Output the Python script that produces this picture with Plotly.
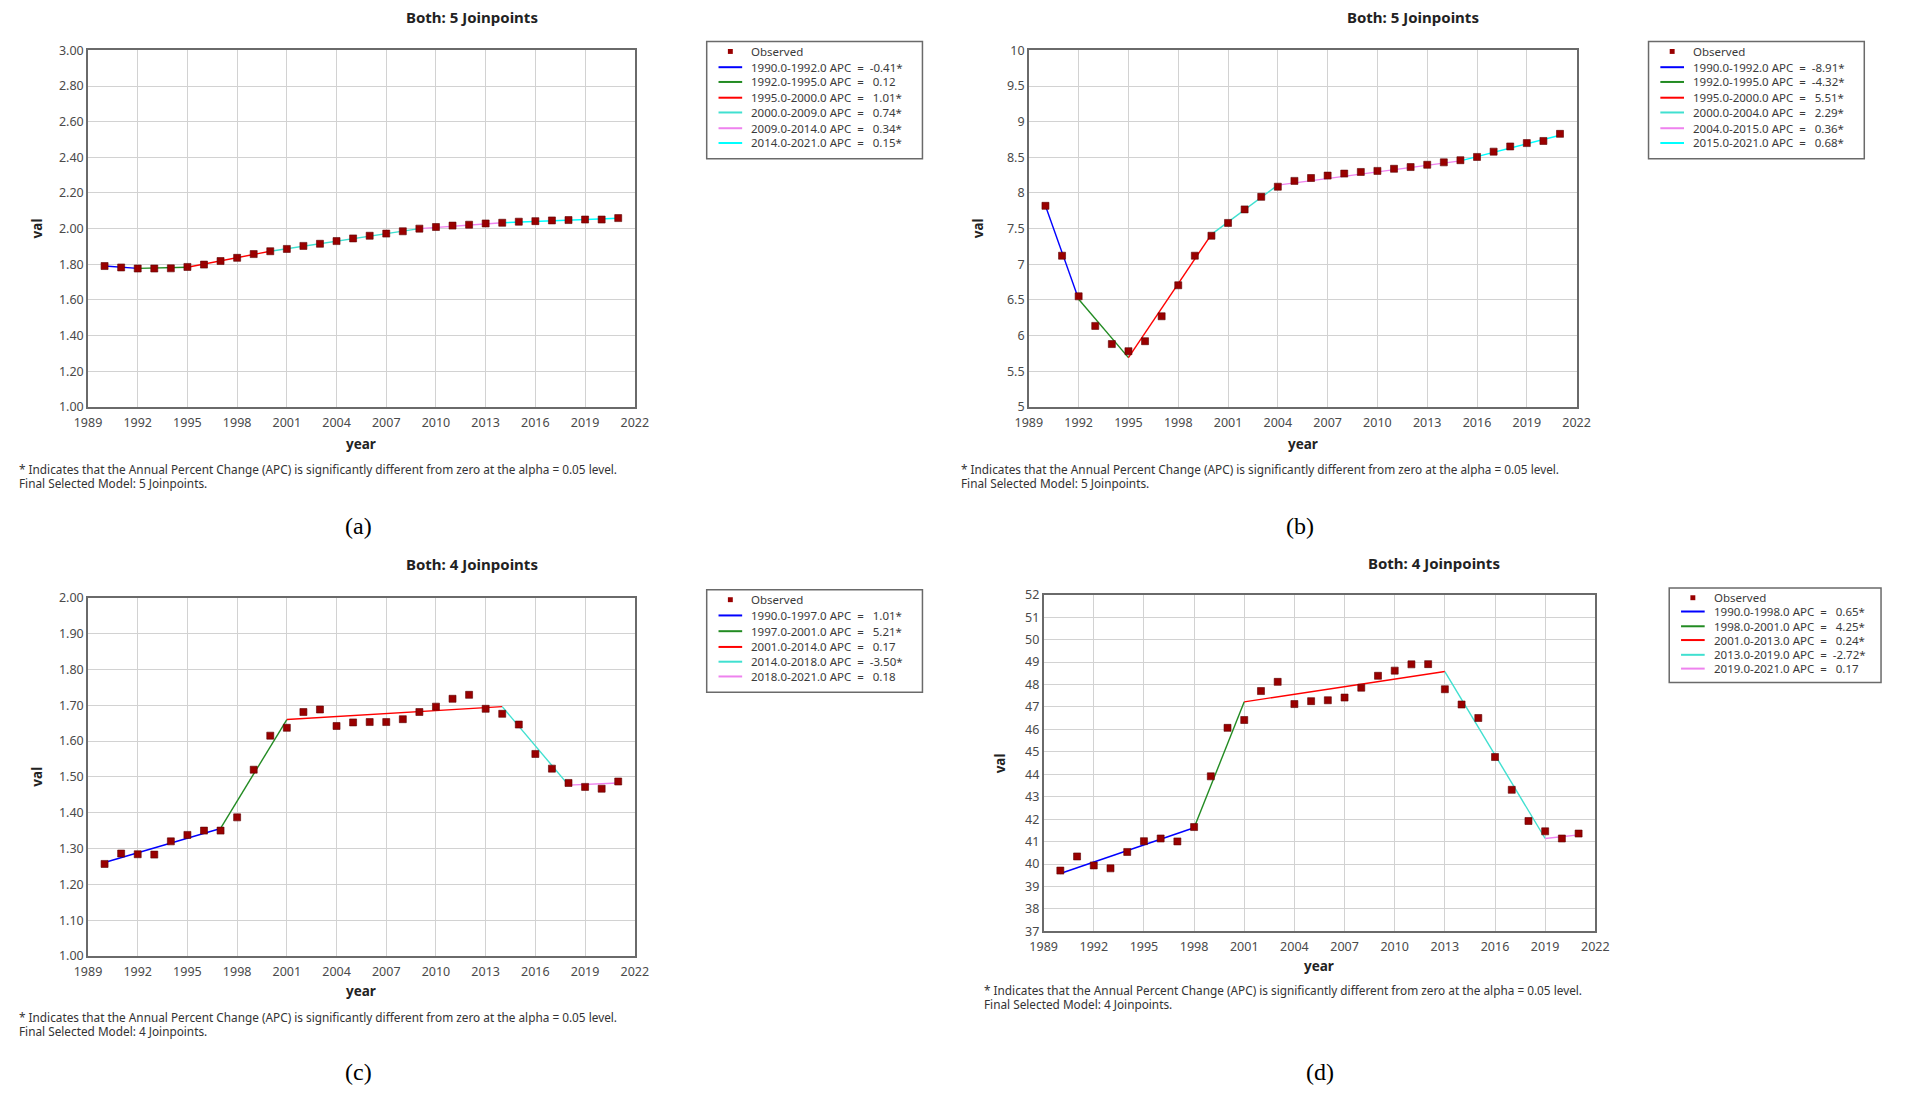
import plotly.graph_objects as go

W, H = 1905, 1098          # size of the reference picture
PAGE_MARGIN = 8            # default <body> margin around the plot div
FW, FH = W - 2 * PAGE_MARGIN, H - 2 * PAGE_MARGIN
years = list(range(1990, 2022))

# (a)
obs_a = [1.790, 1.782, 1.776, 1.776, 1.777, 1.785, 1.798, 1.818, 1.836, 1.857,
         1.873, 1.886, 1.903, 1.915, 1.930, 1.945, 1.960, 1.972, 1.985, 2.000,
         2.009, 2.017, 2.022, 2.029, 2.033, 2.039, 2.042, 2.046, 2.048, 2.051,
         2.051, 2.059]
jp_a = [1990, 1992, 1995, 2000, 2009, 2014, 2021]
fit_a = [1.790, 1.777, 1.783, 1.873, 2.000, 2.033, 2.058]
apc_a = ["-0.41*", "0.12", "1.01*", "0.74*", "0.34*", "0.15*"]

# (b)
obs_b = [7.82, 7.12, 6.55, 6.135, 5.88, 5.78, 5.92, 6.27, 6.705, 7.12,
         7.40, 7.58, 7.77, 7.946, 8.088, 8.17, 8.21, 8.244, 8.272, 8.295,
         8.31, 8.34, 8.364, 8.396, 8.43, 8.46, 8.506, 8.58, 8.653, 8.70,
         8.73, 8.83]
jp_b = [1990, 1992, 1995, 2000, 2004, 2015, 2021]
fit_b = [7.82, 6.51, 5.69, 7.42, 8.11, 8.45, 8.81]
apc_b = ["-8.91*", "-4.32*", "5.51*", "2.29*", "0.36*", "0.68*"]

# (c)
obs_c = [1.257, 1.286, 1.284, 1.283, 1.320, 1.338, 1.350, 1.350, 1.387, 1.520,
         1.615, 1.637, 1.681, 1.688, 1.642, 1.652, 1.653, 1.653, 1.661, 1.681,
         1.696, 1.718, 1.729, 1.690, 1.676, 1.646, 1.564, 1.523, 1.483, 1.472,
         1.467, 1.487]
jp_c = [1990, 1997, 2001, 2014, 2018, 2021]
fit_c = [1.261, 1.356, 1.660, 1.696, 1.477, 1.483]
apc_c = ["1.01*", "5.21*", "0.17", "-3.50*", "0.18"]

# (d)
obs_d = [39.71, 40.34, 39.94, 39.81, 40.54, 41.02, 41.14, 41.01, 41.65, 43.91,
         46.07, 46.42, 47.71, 48.12, 47.13, 47.26, 47.30, 47.42, 47.86, 48.39,
         48.62, 48.90, 48.91, 47.79, 47.11, 46.51, 44.77, 43.31, 41.92, 41.46,
         41.14, 41.36]
jp_d = [1990, 1998, 2001, 2013, 2019, 2021]
fit_d = [39.58, 41.62, 47.23, 48.58, 41.14, 41.30]
apc_d = ["0.65*", "4.25*", "0.24*", "-2.72*", "0.17"]

seg_colors = ["#0000ff", "#228b22", "#ff0000", "#40e0d0", "#ee82ee", "#00ffff"]
FONT = "Noto Sans"
NOTE1 = ("* Indicates that the Annual Percent Change (APC) is significantly "
         "different from zero at the alpha = 0.05 level.")
NOTE2 = "Final Selected Model: %d Joinpoints."


# reference pixel -> paper coords (the page puts the div 8px in)
def px(x):
    return (x - PAGE_MARGIN) / FW


def py(y):
    return 1 - (y - PAGE_MARGIN) / FH


panels = [
    dict(obs=obs_a, jp=jp_a, fit=fit_a, apc=apc_a, nj=5, box=(75, 630, 42, 404),
         yr=[1.0, 3.0], dt=0.2, fmt=".2f", title_xy=(465, 8), leg=(703, 922, 33, 152),
         rows=[43, 59, 74, 90, 105, 121, 136], note_xy=(3, 467), lab="(a)", lab_xy=(350, 525),
         xt_y=442, yt_x=23),
    dict(obs=obs_b, jp=jp_b, fit=fit_b, apc=apc_b, nj=5, box=(1030, 1586, 42, 404),
         yr=[5, 10], dt=0.5, fmt="", title_xy=(1420, 8), leg=(1659, 1878, 33, 152),
         rows=[43, 59, 74, 90, 105, 121, 136], note_xy=(959, 467), lab="(b)", lab_xy=(1305, 525),
         xt_y=442, yt_x=978),
    dict(obs=obs_c, jp=jp_c, fit=fit_c, apc=apc_c, nj=4, box=(75, 630, 598, 962),
         yr=[1.0, 2.0], dt=0.1, fmt=".2f", title_xy=(465, 564), leg=(703, 922, 590, 694),
         rows=[600, 616, 632, 648, 663, 678], note_xy=(3, 1024), lab="(c)", lab_xy=(350, 1080),
         xt_y=998, yt_x=23),
    dict(obs=obs_d, jp=jp_d, fit=fit_d, apc=apc_d, nj=4, box=(1045, 1605, 595, 937),
         yr=[37, 52], dt=1, fmt="", title_xy=(1441, 563), leg=(1680, 1895, 588, 684),
         rows=[598, 612, 627, 641, 656, 670], note_xy=(982, 997), lab="(d)", lab_xy=(1326, 1080),
         xt_y=972, yt_x=1001),
]

fig = go.Figure()
shapes = []
annotations = []


def text(x, y, s, size, family=FONT, color="#222", xanchor="center", angle=0):
    annotations.append(dict(x=px(x), y=py(y), xref="paper", yref="paper", text=s,
                            showarrow=False, xanchor=xanchor, yanchor="middle",
                            textangle=angle, font=dict(family=family, size=size, color=color)))


for i, p in enumerate(panels):
    n = "" if i == 0 else str(i + 1)
    xa, ya = "x" + n, "y" + n
    jp, fit = p["jp"], p["fit"]

    for k in range(len(jp) - 1):
        fig.add_trace(go.Scatter(
            x=jp[k:k + 2], y=fit[k:k + 2], mode="lines",
            line=dict(color=seg_colors[k], width=1.4),
            xaxis=xa, yaxis=ya, showlegend=False, hoverinfo="skip"))
    fig.add_trace(go.Scatter(
        x=years, y=p["obs"], mode="markers", name="Observed",
        marker=dict(symbol="square", size=7, color="#990000",
                    line=dict(width=0.6, color="#5c0000")),
        xaxis=xa, yaxis=ya, showlegend=False))

    x0, x1, y0, y1 = p["box"]
    axis_common = dict(showline=True, linecolor="#6a6a6a", linewidth=1.5, mirror=True,
                       showgrid=True, gridcolor="#d2d2d2", gridwidth=1, zeroline=False,
                       ticks="", tickfont=dict(family=FONT, size=12.5, color="#4a4a4a"))
    fig.update_layout(**{
        "xaxis" + n: dict(domain=[px(x0), px(x1)], range=[1989, 2022], tick0=1989, dtick=3,
                          anchor=ya, ticklabelstandoff=3, **axis_common),
        "yaxis" + n: dict(domain=[py(y1), py(y0)], range=p["yr"], tick0=p["yr"][0],
                          dtick=p["dt"], tickformat=p["fmt"], anchor=xa, **axis_common),
    })

    # titles and labels
    tx, ty = p["title_xy"]
    text(tx, ty, "<b>Both: %d Joinpoints</b>" % p["nj"], 15)
    text((x0 + x1) / 2, p["xt_y"], "<b>year</b>", 13.5)
    text(p["yt_x"], (y0 + y1) / 2, "<b>val</b>", 13.5, angle=-90)
    nx, ny = p["note_xy"]
    text(nx, ny, NOTE1, 11.8, color="#333", xanchor="left")
    text(nx, ny + 14, NOTE2 % p["nj"], 11.8, color="#333", xanchor="left")
    lx, ly = p["lab_xy"]
    text(lx, ly, p["lab"], 24, family="Liberation Serif", color="#000")

    # legend box drawn by hand to keep Joinpoint's tight row spacing
    l0, l1, t0, t1 = p["leg"]
    shapes.append(dict(type="rect", xref="paper", yref="paper",
                       x0=px(l0), x1=px(l1), y0=py(t1), y1=py(t0),
                       line=dict(color="#6a6a6a", width=1.5), fillcolor="white"))
    rows = p["rows"]
    shapes.append(dict(type="rect", xref="paper", yref="paper",
                       x0=px(l0 + 21.5), x1=px(l0 + 26.5), y0=py(rows[0] + 2.5), y1=py(rows[0] - 2.5),
                       line=dict(width=0), fillcolor="#990000"))
    labels = ["Observed"]
    for k in range(len(jp) - 1):
        apc = p["apc"][k] if p["apc"][k].startswith("-") else "\u00a0" + p["apc"][k]
        labels.append("%d.0-%d.0 APC\u00a0\u00a0=\u00a0\u00a0%s" % (jp[k], jp[k + 1], apc))
        shapes.append(dict(type="line", xref="paper", yref="paper",
                           x0=px(l0 + 12), x1=px(l0 + 36), y0=py(rows[k + 1]), y1=py(rows[k + 1]),
                           line=dict(color=seg_colors[k], width=2)))
    for r, lab in zip(rows, labels):
        text(l0 + 43, r, lab, 11.5, color="#3a3a3a", xanchor="left")

fig.update_layout(
    width=FW, height=FH,
    margin=dict(l=0, r=0, t=0, b=0),
    paper_bgcolor="white", plot_bgcolor="white",
    showlegend=False,
    shapes=shapes,
    annotations=annotations,
)

fig.write_html("out.html")
